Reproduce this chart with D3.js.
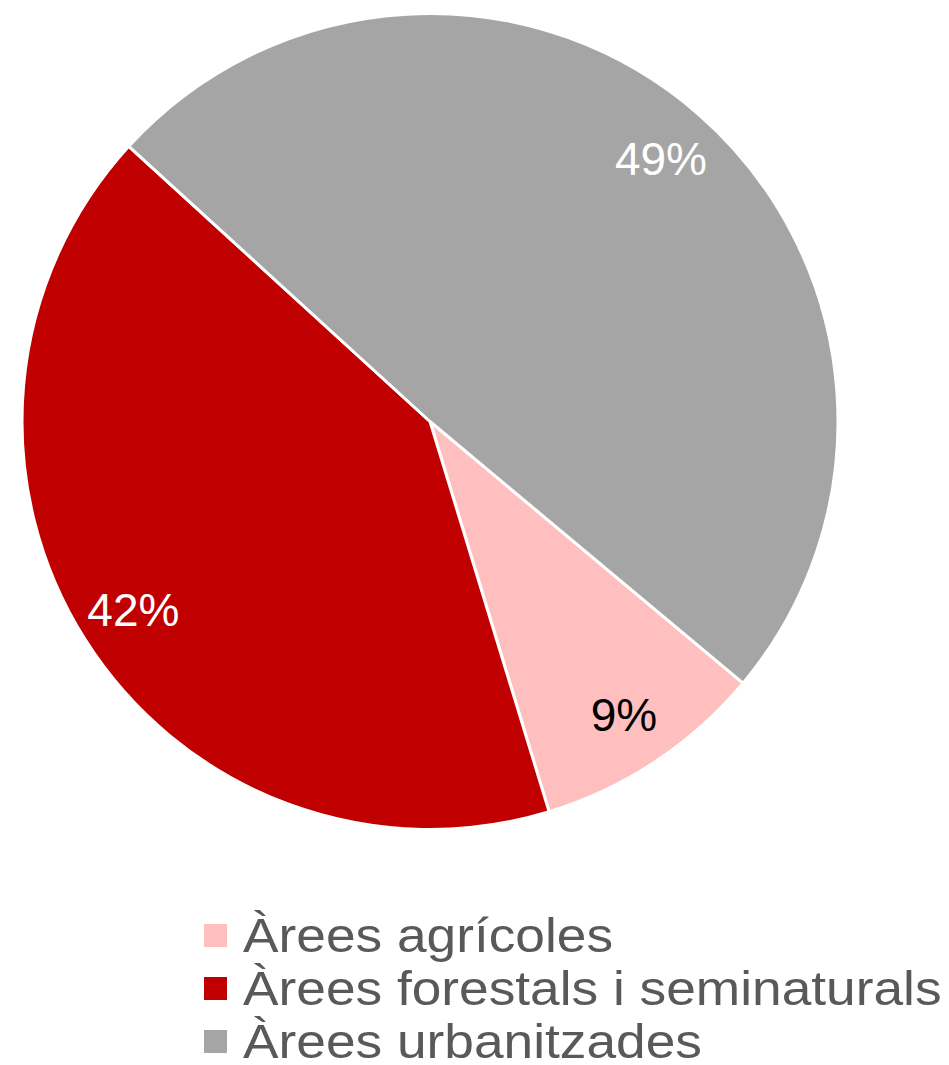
<!DOCTYPE html>
<html>
<head>
<meta charset="utf-8">
<script src="https://cdn.jsdelivr.net/npm/d3@7/dist/d3.min.js"></script>
<style>
  html, body { margin: 0; padding: 0; background: #fff; }
  svg { display: block; font-family: "Liberation Sans", Arial, sans-serif; }
</style>
</head>
<body>
<svg id="chart" width="949" height="1065"></svg>
<script>
const categories = ["Àrees agrícoles", "Àrees forestals i seminaturals", "Àrees urbanitzades"];
const values = [9.2, 41.5, 49.3];
const pctLabels = ["9%", "42%", "49%"];
const colors = ["#FFBFBF", "#C00000", "#A5A5A5"];
const labelColors = ["#000000", "#FFFFFF", "#FFFFFF"];

const svg = d3.select("#chart");
const cx = 430, cy = 421.5, r = 408;
const startDeg = 129.9;

const pie = d3.pie().sort(null).value(d => d.value)
  .startAngle(startDeg * Math.PI / 180)
  .endAngle(startDeg * Math.PI / 180 + 2 * Math.PI);

const data = categories.map((c, i) => ({ name: c, value: values[i], color: colors[i], label: pctLabels[i], lc: labelColors[i] }));
const arcs = pie(data);

const arc = d3.arc().innerRadius(0).outerRadius(r);
const labelArc = d3.arc().innerRadius(r * 0.86).outerRadius(r * 0.86);

const g = svg.append("g").attr("transform", `translate(${cx},${cy})`);
g.selectAll("path").data(arcs).join("path")
  .attr("d", arc)
  .attr("fill", d => d.data.color)
  .attr("stroke", "#fff")
  .attr("stroke-width", 3)
  .attr("stroke-linejoin", "round");

g.selectAll("text").data(arcs).join("text")
  .attr("transform", d => `translate(${labelArc.centroid(d)})`)
  .attr("text-anchor", "middle")
  .attr("dy", "0.38em")
  .attr("font-size", 46)
  .attr("fill", d => d.data.lc)
  .text(d => d.data.label);

// Legend
const legend = svg.append("g");
const lx = 204, ly0 = 924, step = 53, sq = 23;
const items = legend.selectAll("g").data(data).join("g")
  .attr("transform", (d, i) => `translate(${lx},${ly0 + i * step})`);
items.append("rect")
  .attr("width", sq).attr("height", sq)
  .attr("fill", d => d.color);
items.append("text")
  .attr("transform", `translate(39,28) scale(1.11,1)`)
  .attr("font-size", 48)
  .attr("fill", "#595959")
  .text(d => d.name);
</script>
</body>
</html>
